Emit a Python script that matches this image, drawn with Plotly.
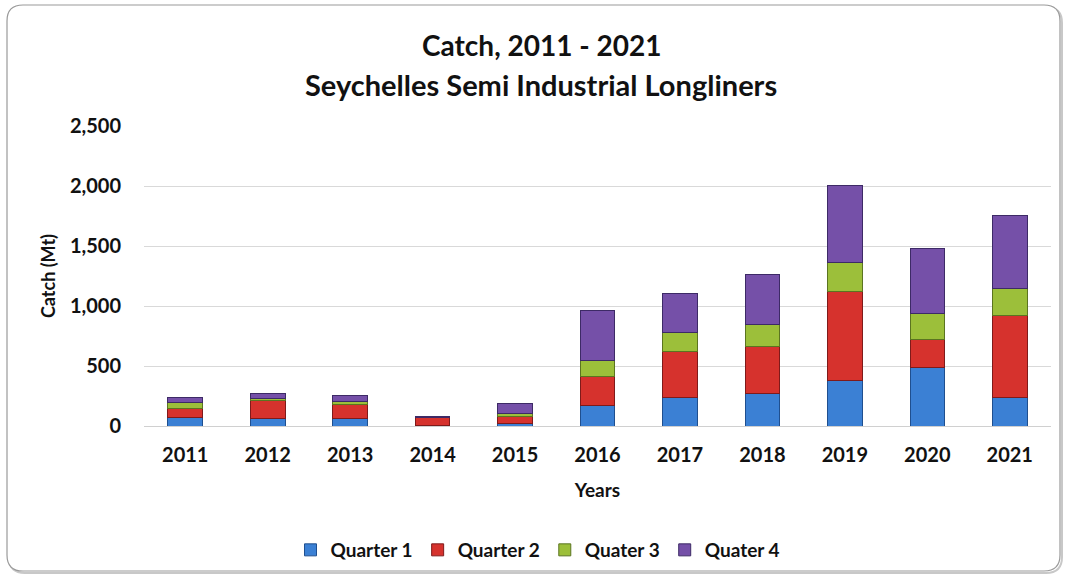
import plotly.graph_objects as go

# Catch (Mt) by quarter, Seychelles semi-industrial longliners
years = ["2011", "2012", "2013", "2014", "2015", "2016",
         "2017", "2018", "2019", "2020", "2021"]
quarter_1 = [67, 65, 62, 5, 25, 170, 240, 275, 378, 490, 240]
quarter_2 = [80, 150, 120, 62, 57, 240, 380, 390, 740, 228, 680]
quater_3 = [47, 12, 20, 8, 23, 140, 160, 180, 245, 216, 222]
quater_4 = [40, 40, 56, 5, 85, 410, 325, 415, 645, 545, 610]

y_ticks = [0, 500, 1000, 1500, 2000, 2500]

series = [
    ("Quarter 1", quarter_1, "#3b80d4", "#1f4f8f"),
    ("Quarter 2", quarter_2, "#d6322d", "#7f1a1a"),
    ("Quater 3", quater_3, "#9cbf3a", "#5b7420"),
    ("Quater 4", quater_4, "#7550a8", "#3d2a66"),
]

FONT = "Lato"

fig = go.Figure()
for name, vals, fill, edge in series:
    fig.add_trace(go.Bar(
        x=years, y=vals, name=name,
        marker=dict(color=fill, line=dict(color=edge, width=1)),
    ))

# plot-area geometry in pixels (for placing the frame and texts)
W, H = 1067, 575
L, R, T, B = 144, 16, 126, 149
pw, ph = W - L - R, H - T - B


def px(x):
    return (x - L) / pw


def py(y):
    return (H - B - y) / ph


# rounded outer frame of the chart
def rounded(x0, y0, x1, y1, r):
    rx, ry = r / pw, r / ph
    X0, X1 = px(x0), px(x1)
    Y0, Y1 = py(y1), py(y0)  # bottom, top in paper units
    return (f"M {X0 + rx} {Y1} L {X1 - rx} {Y1} Q {X1} {Y1} {X1} {Y1 - ry} "
            f"L {X1} {Y0 + ry} Q {X1} {Y0} {X1 - rx} {Y0} "
            f"L {X0 + rx} {Y0} Q {X0} {Y0} {X0} {Y0 + ry} "
            f"L {X0} {Y1 - ry} Q {X0} {Y1} {X0 + rx} {Y1} Z")


shapes = [
    dict(type="path", xref="paper", yref="paper",
         path=rounded(9, 7, 1062, 573, 16),
         line=dict(color="#c8c8c8", width=2), layer="below"),
    dict(type="path", xref="paper", yref="paper",
         path=rounded(7, 5, 1060, 571, 16),
         line=dict(color="#9a9a9a", width=1.2), fillcolor="white",
         layer="below"),
]

annotations = [
    dict(text="<b>Catch, 2011 - 2021</b>", xref="paper", yref="paper",
         x=px(541), y=py(45), xanchor="center", yanchor="middle",
         showarrow=False, font=dict(family=FONT, size=28, color="#111111")),
    dict(text="<b>Seychelles Semi Industrial Longliners</b>", xref="paper",
         yref="paper", x=px(541), y=py(85), xanchor="center",
         yanchor="middle", showarrow=False,
         font=dict(family=FONT, size=29, color="#111111")),
]

fig.update_layout(
    width=W, height=H,
    margin=dict(l=L, r=R, t=T, b=B, pad=0, autoexpand=False),
    paper_bgcolor="white", plot_bgcolor="white",
    barmode="stack", bargap=0.58,
    font=dict(family=FONT, color="#111111"),
    shapes=shapes, annotations=annotations,
    showlegend=True,
    legend=dict(orientation="h", x=px(538), y=py(550),
                xanchor="center", yanchor="middle",
                font=dict(family=FONT, size=19, color="#111111", weight="bold"),
                itemwidth=30, traceorder="normal", bgcolor="rgba(0,0,0,0)"),
    xaxis=dict(
        type="category", showgrid=False, zeroline=False,
        showline=False, ticks="outside", ticklen=11,
        tickcolor="rgba(0,0,0,0)", automargin=False,
        tickfont=dict(family=FONT, size=20, weight="bold"),
        title=dict(text="<b>Years</b>", font=dict(family=FONT, size=19),
                   standoff=18),
    ),
    yaxis=dict(
        range=[0, 2500], tickvals=y_ticks, tickformat=",d",
        showgrid=True, gridcolor="#d9d9d9", gridwidth=1,
        zeroline=True, zerolinecolor="#d0d0d0", zerolinewidth=1,
        showline=False, ticks="outside", ticklen=18,
        tickcolor="rgba(0,0,0,0)", automargin=False,
        tickfont=dict(family=FONT, size=20, weight="bold"),
        title=dict(text="<b>Catch (Mt)</b>", font=dict(family=FONT, size=18),
                   standoff=9),
    ),
)

fig.write_html("out.html")
